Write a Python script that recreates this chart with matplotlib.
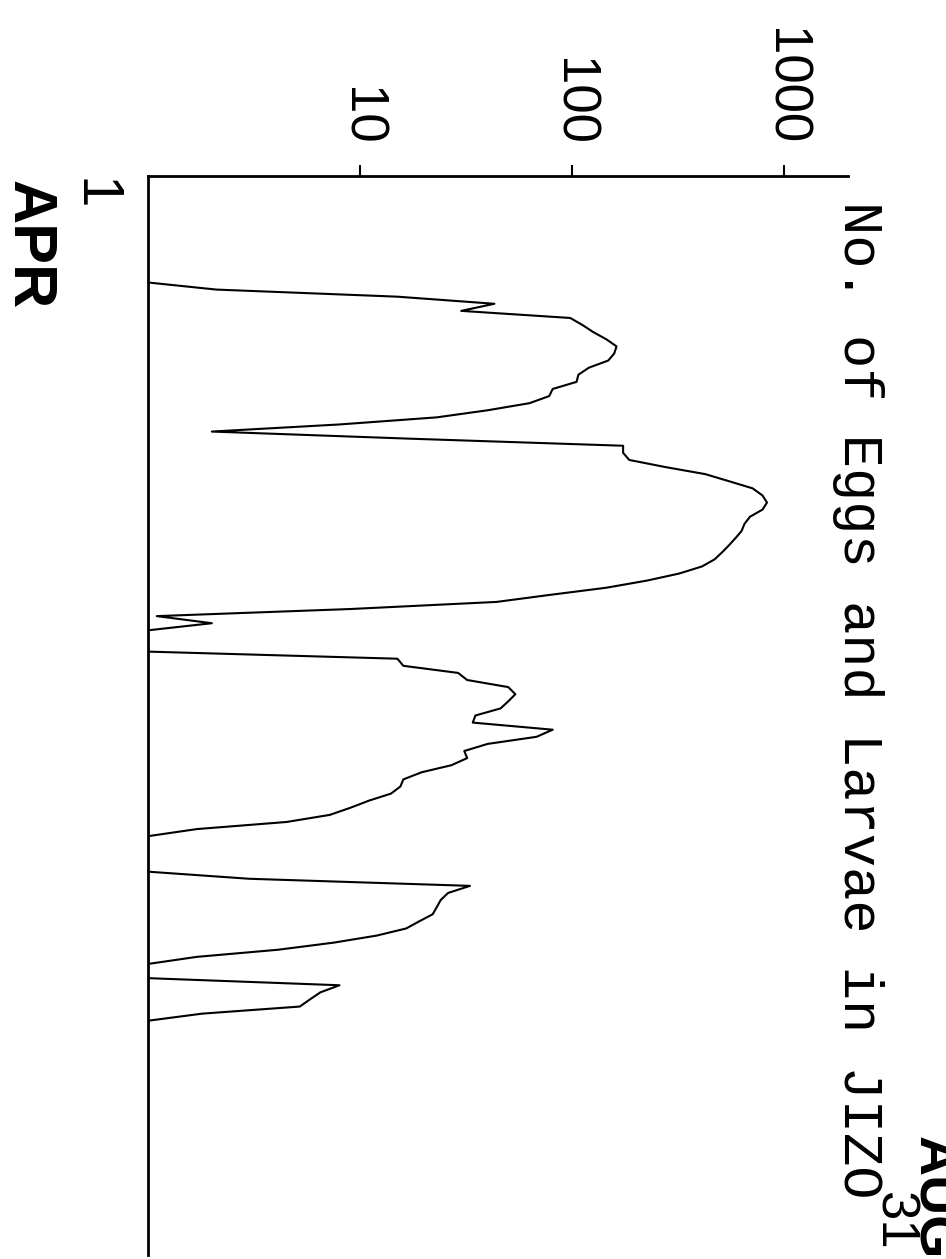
import numpy as np
import matplotlib
matplotlib.use("Agg")
import matplotlib.pyplot as plt

# day 0 = 1 April, day 152 = 31 August; counts of 1 lie on the axis
days = [0, 15, 16, 17, 18, 19, 20, 21, 22, 23, 24, 25, 26, 27, 28, 29, 30,
        31, 32, 33, 34, 35, 36,
        37, 38, 39, 40, 41, 42, 43, 44, 45, 46, 47, 48, 49, 50, 51, 52, 53,
        54, 55, 56, 57, 58, 59, 60, 61, 62, 63, 64,
        67, 68, 69, 70, 71, 72, 73, 74, 75, 76, 77, 78, 79, 80, 81, 82, 83,
        84, 85, 86, 87, 88, 89, 90, 91, 92, 93,
        98, 99, 100, 101, 102, 103, 104, 105, 106, 107, 108, 109, 110, 111,
        113, 114, 115, 116, 117, 118, 119, 152]
counts = [1, 1, 2.1, 15, 43, 30, 98, 112, 126, 145, 162, 158, 148, 120, 107,
          105, 81, 78, 63, 40, 23, 8, 2,
          17, 174, 174, 186, 275, 425, 550, 710, 790, 830, 790, 690, 650, 630,
          590, 550, 510, 470, 410, 320, 225, 145, 79, 44, 9, 1.1, 2.0, 1,
          1, 15, 16, 29, 32, 50, 54, 50, 46, 35, 34, 81, 68, 40, 31, 32, 27,
          19.5, 16, 15.5, 14, 11, 9, 7.2, 4.5, 1.7, 1,
          1, 3, 33, 26, 24, 23, 22, 19, 16.5, 12, 7.5, 4.1, 1.7, 1,
          1, 8, 6.5, 5.8, 5.2, 1.8, 1, 1]

value_ticks = [10, 100, 1000]
value_labels = ['10', '100', '1000']
title = 'No. of Eggs and Larvae in JIZO'

W, H = 946, 1259
fig = plt.figure(figsize=(W / 100, H / 100), dpi=100)
ax = fig.add_axes([148 / W, 1 - 1255 / H, 700 / W, (1255 - 176) / H])

ax.plot(counts, days, color='k', lw=1.5)
ax.set_xscale('log')
ax.set_xlim(1, 2000)
ax.set_ylim(152, 0)

# only the top (value) and left (date) lines
ax.spines['right'].set_visible(False)
ax.spines['bottom'].set_visible(False)
ax.spines['top'].set_linewidth(2)
ax.spines['left'].set_linewidth(2)

ax.xaxis.tick_top()
ax.xaxis.set_minor_locator(matplotlib.ticker.NullLocator())
ax.set_xticks(value_ticks)
ax.set_xticklabels(value_labels, rotation=-90, fontsize=38,
                   family='Liberation Sans')
ax.tick_params(axis='x', direction='out', length=8, width=1.5, pad=14)
ax.tick_params(axis='y', left=False, labelleft=False)

# date ends (rotated text, anchored on the baseline)
rot = dict(rotation=-90, rotation_mode='anchor', va='baseline',
           family='Liberation Sans')
fig.text(78 / W, 1 - 178 / H, '1', ha='left', fontsize=42, **rot)
fig.text(12 / W, 1 - 180 / H, 'APR', ha='left', fontsize=44,
         fontweight='bold', **rot)
fig.text(880 / W, 1 - 1250 / H, '31', ha='right', fontsize=38, **rot)
fig.text(918 / W, 1 - 1259 / H, 'AUG', ha='right', fontsize=40,
         fontweight='bold', **rot)

fig.text(858 / W, 1 - 700 / H, title, rotation=-90, ha='center',
         va='center', fontsize=40, family='Liberation Mono')

fig.savefig('out.png', dpi=100)
